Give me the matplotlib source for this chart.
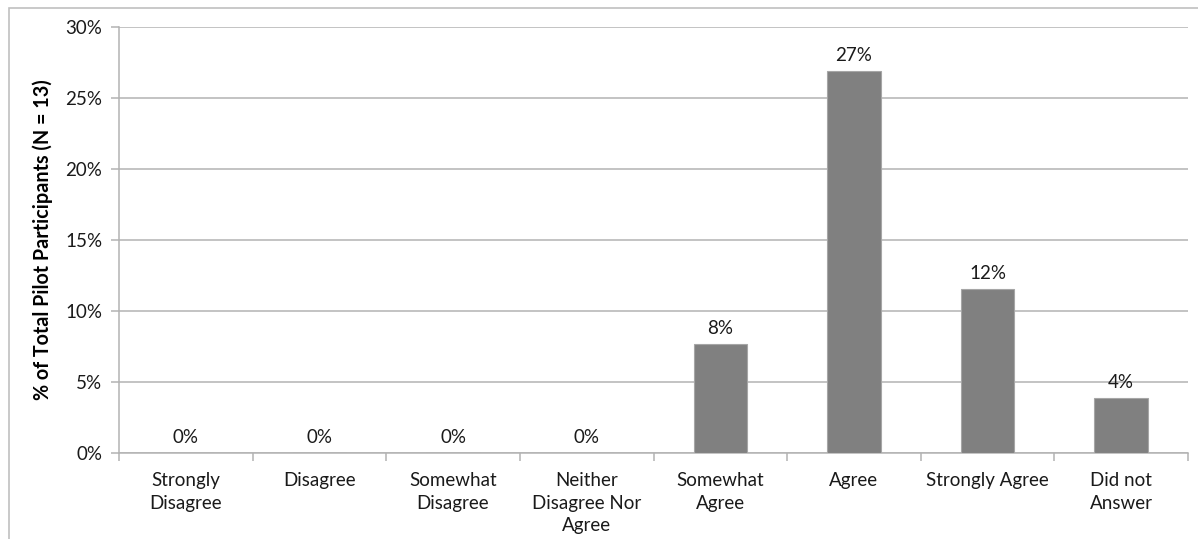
import numpy as np
from matplotlib import pyplot as plt
from matplotlib.patches import Rectangle
from matplotlib.ticker import MultipleLocator, PercentFormatter

# survey responses, share of N = 13 participants (in %)
categories = [
    "Strongly\nDisagree",
    "Disagree",
    "Somewhat\nDisagree",
    "Neither\nDisagree Nor\nAgree",
    "Somewhat\nAgree",
    "Agree",
    "Strongly Agree",
    "Did not\nAnswer",
]
values = [0.0, 0.0, 0.0, 0.0, 7.69, 26.92, 11.54, 3.85]
labels = ["0%", "0%", "0%", "0%", "8%", "27%", "12%", "4%"]

plt.rcParams["font.family"] = ["Lato", "DejaVu Sans"]
grid_col = "#b3b3b3"
txt_col = "#1a1a1a"
fs = 13.5

fig = plt.figure(figsize=(11.98, 5.39), dpi=100)
ax = fig.add_axes([119 / 1198, 1 - 453 / 539, (1188 - 119) / 1198, (453 - 27) / 539])

# outer chart frame (runs off the right and bottom of the image)
fig.patches.append(
    Rectangle((9 / 1198, -0.1), 1.2, 1.1 - 8 / 539, transform=fig.transFigure,
              fill=False, edgecolor="#c0c0c0", linewidth=1.2, zorder=0)
)

x = np.arange(len(categories))
bars = ax.bar(x, values, width=0.4, color="#808080", edgecolor="#a6a6a6",
              linewidth=0.8, zorder=3)
for xi, v, lab in zip(x, values, labels):
    ax.annotate(lab, (xi, v), xytext=(0, 5), textcoords="offset points",
                ha="center", va="bottom", fontsize=fs, color=txt_col)

ax.set_xlim(-0.5, len(categories) - 0.5)
ax.set_ylim(0, 30)
ax.yaxis.set_major_locator(MultipleLocator(5))
ax.yaxis.set_major_formatter(PercentFormatter(decimals=0))
ax.grid(axis="y", color=grid_col, linewidth=1.1, zorder=0)

ax.set_xticks(x)
ax.set_xticklabels(categories, fontsize=fs, color=txt_col, linespacing=1.38)
ax.tick_params(axis="x", length=0, pad=14)
ax.set_xticks(np.arange(-0.5, len(categories)), minor=True)
ax.tick_params(axis="x", which="minor", length=6, color=grid_col, width=1.1)
ax.tick_params(axis="y", length=6, color=grid_col, width=1.1, labelsize=fs,
               labelcolor=txt_col, pad=6)

for side in ["top", "right"]:
    ax.spines[side].set_visible(False)
for side in ["left", "bottom"]:
    ax.spines[side].set_color(grid_col)
    ax.spines[side].set_linewidth(1.1)

ax.set_ylabel("% of Total Pilot Participants (N = 13)", fontsize=14.2,
              fontweight="bold", labelpad=9)

fig.savefig("out.png", dpi=100)
